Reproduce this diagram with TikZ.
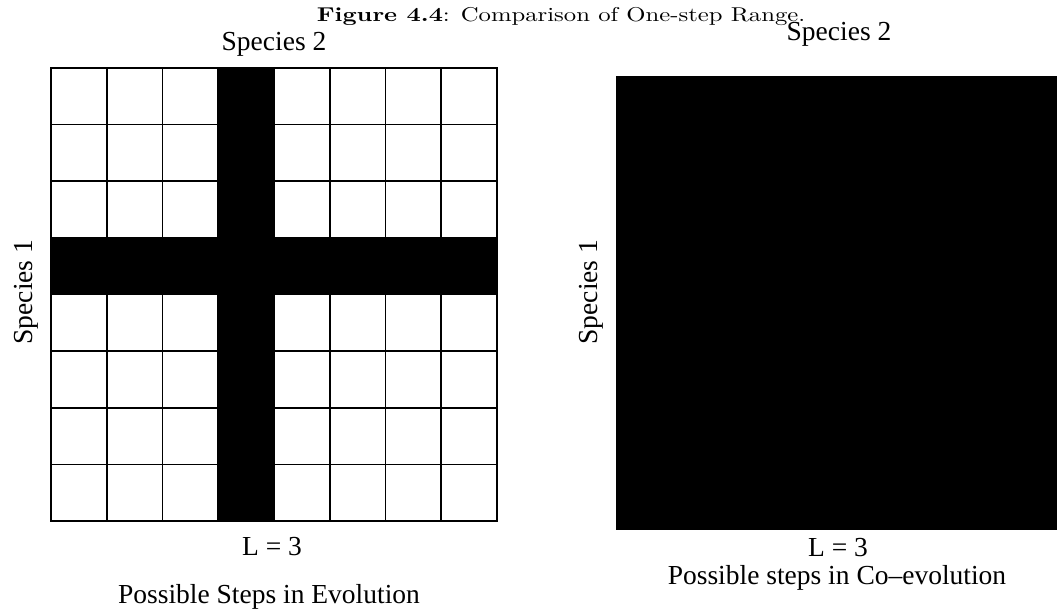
\documentclass[tikz,border=0pt]{standalone}
\usepackage{fontspec}
\newfontfamily\labelfont{Liberation Serif}
\begin{document}
\begin{tikzpicture}[x=1pt,y=-1pt,
  lbl/.style={font=\labelfont\fontsize{27.5}{30}\selectfont, inner sep=0pt, anchor=base},
  gridline/.style={line width=1.6pt, line cap=rect}]
\useasboundingbox (0,0) rectangle (1057,614);

% caption (10pt design size, widened)
\node[anchor=base, inner sep=0pt, font=\fontsize{10}{12}\selectfont,
      xscale=2.47, yscale=2.0, transform shape] (title) at (561,21.5)
  {\textbf{Figure 4.4}: Comparison of One-step Range.};

% left panel: one-step range of single-species evolution
\fill (218.25,68) rectangle (274,521);
\fill (51,237.9) rectangle (497,294.5);
\foreach \i in {0,...,8}
  \draw[gridline] ({51+\i*55.75},68) -- ({51+\i*55.75},521);
\foreach \j in {0,...,8}
  \draw[gridline] (51,{68+\j*56.625}) -- (497,{68+\j*56.625});

\node[lbl] (top1) at (274,50) {Species 2};
\node[lbl, rotate=90] (side1) at (32,292) {Species 1};
\node[lbl] (len1) at (272,555) {L = 3};
\node[lbl] (cap1) at (269,603) {Possible Steps in Evolution};

% right panel: one-step range of co-evolution (whole square reachable)
\fill (616,76) rectangle (1062,530);

\node[lbl] (top2) at (839,40) {Species 2};
\node[lbl, rotate=90] (side2) at (597,292) {Species 1};
\node[lbl] (len2) at (838,556) {L = 3};
\node[lbl] (cap2) at (837,584) {Possible steps in Co–evolution};
\end{tikzpicture}
\end{document}
